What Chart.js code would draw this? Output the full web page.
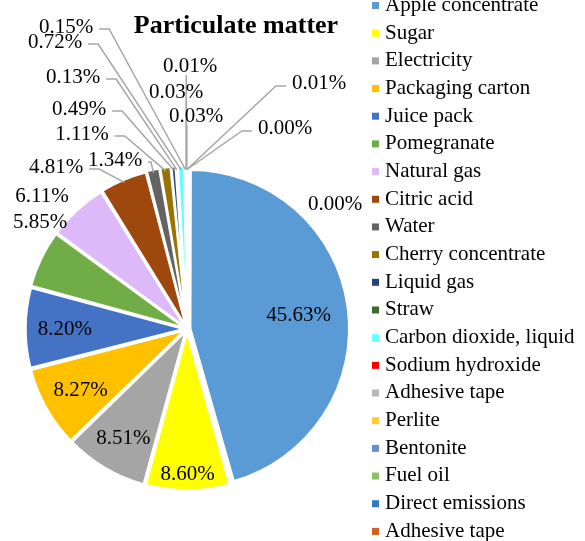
<!DOCTYPE html>
<html>
<head>
<meta charset="utf-8">
<title>Particulate matter</title>
<script src="https://cdn.jsdelivr.net/npm/chart.js@4.4.1/dist/chart.umd.min.js"></script>
<style>
  html, body { margin: 0; padding: 0; background: #fff; }
  #wrap { width: 585px; height: 541px; }
</style>
</head>
<body>
<div id="wrap"><canvas id="pmChart" width="585" height="541"></canvas></div>
<script>
// Particulate matter - share of each input (%)

const categories = [
  'Apple concentrate', 'Sugar', 'Electricity', 'Packaging carton', 'Juice pack',
  'Pomegranate', 'Natural gas', 'Citric acid', 'Water', 'Cherry concentrate',
  'Liquid gas', 'Straw', 'Carbon dioxide, liquid', 'Sodium hydroxide', 'Adhesive tape',
  'Perlite', 'Bentonite', 'Fuel oil', 'Direct emissions', 'Adhesive tape'
];
const shares = [
  45.63, 8.60, 8.51, 8.27, 8.20,
  5.85, 6.11, 4.81, 1.34, 1.11,
  0.49, 0.13, 0.72, 0.15, 0.01,
  0.03, 0.03, 0.01, 0.00, 0.00
];
const sliceColors = [
  '#5B9BD5', '#FFFF00', '#A5A5A5', '#FFC000', '#4472C4',
  '#70AD47', '#DDB9FA', '#9E480E', '#636363', '#997300',
  '#264478', '#43682B', '#66FFFF', '#FF0000', '#B7B7B7',
  '#FFCD33', '#698ED0', '#8CC168', '#337AC0', '#D0641E'
];

// Labels that sit inside their slice: fraction of the radius along the mid angle
const insideAt = [0.70, 0.90, 0.78, 0.76, 0.76, null, null, null, null, null,
  null, null, null, null, null, null, null, null, null, null];
// Labels placed outside: text centre
const calloutAt = [null, null, null, null, null,
  [40, 221], [42, 195], [56, 166], [115, 159], [82, 133],
  [79, 108], [73, 76], [55, 41], [66, 26], [190, 65],
  [176, 91], [196, 115], [319, 82], [285, 127], [335, 203]];
const withLeader = [false, false, false, false, false,
  false, false, true, true, true,
  true, true, true, true, true,
  true, true, true, true, false];

const FONT = '"Liberation Serif", "Times New Roman", serif';
const LABEL_SIZE = 21;

function drawCentered(ctx, text, cx, cy) {
  ctx.fillText(text, cx, cy + LABEL_SIZE * 0.33);
}

// Percentage labels and leader lines
const pieLabels = {
  id: 'pieLabels',
  afterDatasetsDraw(chart) {
    const ctx = chart.ctx;
    const arcs = chart.getDatasetMeta(0).data;
    const texts = [];

    ctx.save();
    ctx.font = `${LABEL_SIZE}px ${FONT}`;
    ctx.strokeStyle = '#A6A6A6';
    ctx.lineWidth = 1.5;

    arcs.forEach((arc, i) => {
      const { x, y, startAngle, endAngle, outerRadius } =
        arc.getProps(['x', 'y', 'startAngle', 'endAngle', 'outerRadius'], true);
      const mid = (startAngle + endAngle) / 2;
      const shift = (arc.options.offset || 0) / 4;
      const text = shares[i].toFixed(2) + '%';

      if (insideAt[i] !== null) {
        const r = shift + insideAt[i] * outerRadius;
        texts.push([text, x + Math.cos(mid) * r, y + Math.sin(mid) * r]);
        return;
      }

      const [lx, ly] = calloutAt[i];
      texts.push([text, lx, ly]);
      if (!withLeader[i]) return;

      // point on the rim of the slice
      const px = x + Math.cos(mid) * (outerRadius + shift);
      const py = y + Math.sin(mid) * (outerRadius + shift);
      const half = ctx.measureText(text).width / 2;
      const left = lx - half;
      const right = lx + half;

      ctx.beginPath();
      if (px >= left && px <= right) {
        ctx.moveTo(px, ly + 10);
        ctx.lineTo(px, py);
      } else if (px > right) {
        const sx = right + 6;
        const len = Math.min(10, (px - sx) / 2);
        ctx.moveTo(sx, ly + 3);
        ctx.lineTo(sx + len, ly + 3);
        ctx.lineTo(px, py);
      } else {
        const sx = left - 6;
        const len = Math.min(10, (sx - px) / 2);
        ctx.moveTo(sx, ly + 4);
        ctx.lineTo(sx - len, ly + 4);
        ctx.lineTo(px, py);
      }
      ctx.stroke();
    });

    ctx.fillStyle = '#000';
    ctx.textAlign = 'center';
    texts.forEach(([t, tx, ty]) => drawCentered(ctx, t, tx, ty));
    ctx.restore();
  }
};

// Legend column on the right
const sideLegend = {
  id: 'sideLegend',
  afterDraw(chart) {
    const ctx = chart.ctx;
    ctx.save();
    ctx.font = `${LABEL_SIZE}px ${FONT}`;
    ctx.textAlign = 'left';
    categories.forEach((name, i) => {
      const cy = 4 + i * 27.68;
      ctx.fillStyle = sliceColors[i];
      ctx.fillRect(372, cy - 2, 7, 7);
      ctx.fillStyle = '#000';
      drawCentered(ctx, name, 385, cy);
    });
    ctx.restore();
  }
};

// Chart heading
const chartHeading = {
  id: 'chartHeading',
  afterDraw(chart) {
    const ctx = chart.ctx;
    ctx.save();
    ctx.font = `bold 26px ${FONT}`;
    ctx.fillStyle = '#000';
    ctx.textAlign = 'center';
    ctx.fillText('Particulate matter', 236, 33);
    ctx.restore();
  }
};

const canvas = document.getElementById('pmChart');
new Chart(canvas.getContext('2d'), {
  type: 'pie',
  data: {
    labels: categories,
    datasets: [{
      data: shares,
      backgroundColor: sliceColors,
      borderColor: '#FFFFFF',
      borderWidth: 2,
      offset: 14,
      radius: 156
    }]
  },
  options: {
    responsive: false,
    animation: false,
    events: [],
    layout: { padding: { left: 17, right: 228, top: 159, bottom: 42 } },
    plugins: {
      legend: { display: false },
      title: { display: false },
      tooltip: { enabled: false }
    }
  },
  plugins: [pieLabels, sideLegend, chartHeading]
});
</script>
</body>
</html>
